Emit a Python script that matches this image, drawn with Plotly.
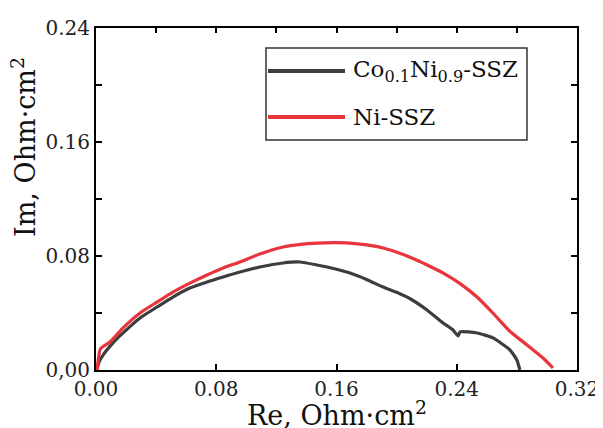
import plotly.graph_objects as go

# Co0.1Ni0.9-SSZ impedance curve
re_co = [0.0007, 0.002, 0.0047, 0.0113, 0.018, 0.0293, 0.0406, 0.0512, 0.0625, 0.0739,
         0.0845, 0.0958, 0.109, 0.1244, 0.1357, 0.147, 0.158, 0.169, 0.180, 0.191, 0.200,
         0.209, 0.2202, 0.2309, 0.2375, 0.2409, 0.2422, 0.2535, 0.2641, 0.2755, 0.280, 0.282]
im_co = [0.0007, 0.0056, 0.0105, 0.019, 0.026, 0.0365, 0.0442, 0.0512, 0.0575, 0.0618,
         0.0653, 0.0688, 0.0723, 0.0751, 0.0758, 0.0737, 0.0712, 0.068, 0.0635, 0.0582, 0.0545,
         0.050, 0.0421, 0.033, 0.0281, 0.0239, 0.0267, 0.026, 0.0225, 0.014, 0.007, 0.0]

# Ni-SSZ impedance curve
re_ni = [0.0007, 0.003, 0.0093, 0.018, 0.0293, 0.0406, 0.0512, 0.0625, 0.0739, 0.0845,
         0.0958, 0.109, 0.1244, 0.136, 0.147, 0.158, 0.169, 0.180, 0.191, 0.2025, 0.2136,
         0.222, 0.231, 0.242, 0.2535, 0.264, 0.2755, 0.2868, 0.2974, 0.304]
im_ni = [0.0, 0.015, 0.0196, 0.0295, 0.040, 0.0477, 0.0547, 0.061, 0.0667, 0.0716,
         0.0758, 0.0814, 0.0863, 0.0882, 0.0891, 0.0894, 0.0891, 0.0878, 0.0856, 0.0818, 0.0770,
         0.0728, 0.0680, 0.0608, 0.0512, 0.040, 0.0270, 0.0175, 0.0084, 0.0014]

x_ticks = [0.0, 0.08, 0.16, 0.24, 0.32]
x_tick_labels = ["0.00", "0.08", "0.16", "0.24", "0.32"]
x_top_ticks = [0.04, 0.08, 0.12, 0.16, 0.20, 0.24, 0.28]
y_ticks = [0.0, 0.08, 0.16, 0.24]
y_tick_labels = ["0,00", "0.08", "0.16", "0.24"]

names = ["Co<sub>0.1</sub>Ni<sub>0.9</sub>-SSZ", "Ni-SSZ"]
colors = ["#3d3d3d", "#e8353c"]

FONT = "DejaVu Serif"

fig = go.Figure()
fig.add_trace(go.Scatter(x=re_co, y=im_co, mode="lines",
                         line=dict(color=colors[0], width=3.2, shape="spline", smoothing=0.5),
                         showlegend=False))
fig.add_trace(go.Scatter(x=re_ni, y=im_ni, mode="lines",
                         line=dict(color=colors[1], width=3.2, shape="spline", smoothing=0.5),
                         showlegend=False))
# dummy trace for the top axis (minor ticks)
fig.add_trace(go.Scatter(x=[None], y=[None], xaxis="x2", yaxis="y", showlegend=False,
                         hoverinfo="skip"))

axis_common = dict(showgrid=False, zeroline=False, linecolor="black", linewidth=2,
                   ticks="inside", tickcolor="black", tickwidth=2, automargin=False,
                   tickfont=dict(family=FONT, size=20, color="#222"))

# page body has an 8px margin, so the figure is 8px smaller and offset
fig.update_layout(
    template="none",
    width=595, height=420,
    margin=dict(l=88, r=26, t=20, b=58, autoexpand=False),
    paper_bgcolor="white", plot_bgcolor="white",
    xaxis=dict(range=[0, 0.32], tickvals=x_ticks, ticktext=x_tick_labels, ticklen=6,
               mirror=True, **axis_common),
    xaxis2=dict(range=[0, 0.32], overlaying="x", side="top", anchor="y",
                tickvals=x_top_ticks, ticklen=5, automargin=False,
                showticklabels=False, showline=False, showgrid=False, zeroline=False,
                ticks="inside", tickcolor="black", tickwidth=2),
    yaxis=dict(range=[0, 0.24], tickvals=y_ticks, ticktext=y_tick_labels, ticklen=6,
               mirror="allticks",
               minor=dict(dtick=0.04, ticks="inside", ticklen=5, tickcolor="black", tickwidth=2),
               **axis_common),
    showlegend=False,
)

# axis titles
fig.add_annotation(text="Re, Ohm·cm<sup>2</sup>", xref="paper", yref="paper",
                   x=0.5, y=-0.128, xanchor="center", yanchor="middle", showarrow=False,
                   font=dict(family=FONT, size=27, color="#111"))
fig.add_annotation(text="Im, Ohm·cm<sup>2</sup>", xref="paper", yref="paper",
                   x=-0.152, y=0.652, xanchor="center", yanchor="middle", textangle=-90,
                   showarrow=False, font=dict(family=FONT, size=27, color="#111"))

# legend box
fig.add_shape(type="rect", xref="paper", yref="paper", x0=0.3534, x1=0.896, y0=0.6725, y1=0.9415,
              line=dict(color="#333", width=1.5), fillcolor="rgba(0,0,0,0)")
legend_y = [0.874, 0.7398]
for name, color, ly in zip(names, colors, legend_y):
    fig.add_shape(type="line", xref="paper", yref="paper", x0=0.3576, x1=0.5177, y0=ly, y1=ly,
                  line=dict(color=color, width=4))
    fig.add_annotation(text=name, xref="paper", yref="paper", x=0.530, y=ly,
                       xanchor="left", yanchor="middle", showarrow=False,
                       font=dict(family=FONT, size=23, color="#111"))

fig.write_html("out.html")
